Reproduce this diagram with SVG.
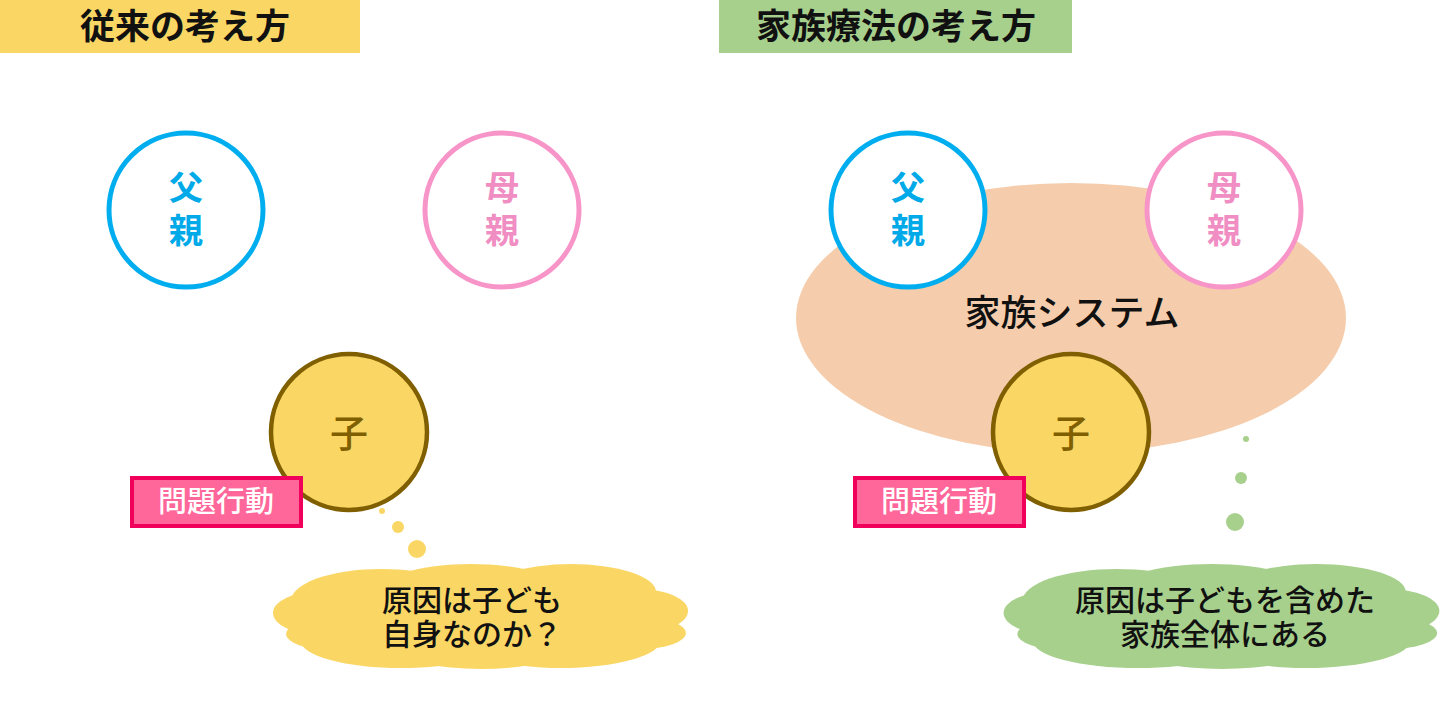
<svg xmlns="http://www.w3.org/2000/svg" width="1440" height="720" viewBox="0 0 1440 720">
<style>
.jp{font-family:"Noto Sans CJK JP","Noto Sans",sans-serif;}
.title{font-size:35px;font-weight:bold;fill:#111;}
.pc{font-size:34px;font-weight:bold;}
.ring{stroke-width:5;fill:#fff;}
.child{fill:#FAD764;stroke:#7F5F00;stroke-width:4.5;}
.tag{fill:#FF6699;stroke:#F0005A;stroke-width:4;}
.tagt{font-size:29px;fill:#fff;font-weight:500;}
.cl{font-size:30px;fill:#111;font-weight:500;}
</style>
<defs>
<g id="cloud">
<ellipse cx="0" cy="0" rx="180" ry="45"/>
<ellipse cx="-100" cy="-15" rx="90" ry="32"/>
<ellipse cx="-10" cy="-22" rx="95" ry="30"/>
<ellipse cx="90" cy="-24" rx="85" ry="28"/>
<ellipse cx="-160" cy="-3" rx="48" ry="22"/>
<ellipse cx="158" cy="-5" rx="49" ry="22"/>
<ellipse cx="-80" cy="25" rx="100" ry="27"/>
<ellipse cx="80" cy="24" rx="100" ry="28"/>
<ellipse cx="0" cy="34" rx="80" ry="19"/>
<ellipse cx="-150" cy="18" rx="45" ry="16"/>
<ellipse cx="160" cy="17" rx="45" ry="16"/>
</g>
</defs>
<g id="title-left">
<rect x="0" y="0" width="360" height="53" fill="#FAD764"/>
<text class="jp title" x="185" y="39" text-anchor="middle">従来の考え方</text>
</g>
<g id="title-right">
<rect x="719" y="0" width="353" height="53" fill="#A8D08D"/>
<text class="jp title" x="896" y="39" text-anchor="middle">家族療法の考え方</text>
</g>
<g id="family-system">
<ellipse cx="1071" cy="318" rx="275" ry="135" fill="#F5CDAC"/>
<text class="jp" x="1072" y="326" text-anchor="middle" font-size="36" font-weight="500" fill="#111">家族システム</text>
</g>
<g id="father-left">
<circle class="ring" cx="186" cy="210" r="77" stroke="#00AEEF"/>
<text class="jp pc" x="186" y="200" text-anchor="middle" fill="#00A9E8">父</text>
<text class="jp pc" x="186" y="243" text-anchor="middle" fill="#00A9E8">親</text>
</g>
<g id="mother-left">
<circle class="ring" cx="502" cy="210" r="77" stroke="#F795C9"/>
<text class="jp pc" x="502" y="200" text-anchor="middle" fill="#F08DC3">母</text>
<text class="jp pc" x="502" y="243" text-anchor="middle" fill="#F08DC3">親</text>
</g>
<g id="child-left">
<circle class="child" cx="349" cy="432" r="78"/>
<text class="jp" x="349" y="447" text-anchor="middle" font-size="38" font-weight="500" fill="#7F5F00">子</text>
</g>
<g id="tag-left">
<rect class="tag" x="132" y="478" width="169" height="48"/>
<text class="jp tagt" x="216" y="512" text-anchor="middle">問題行動</text>
</g>
<g id="father-right">
<circle class="ring" cx="908" cy="210" r="77" stroke="#00AEEF"/>
<text class="jp pc" x="908" y="200" text-anchor="middle" fill="#00A9E8">父</text>
<text class="jp pc" x="908" y="243" text-anchor="middle" fill="#00A9E8">親</text>
</g>
<g id="mother-right">
<circle class="ring" cx="1224" cy="210" r="77" stroke="#F795C9"/>
<text class="jp pc" x="1224" y="200" text-anchor="middle" fill="#F08DC3">母</text>
<text class="jp pc" x="1224" y="243" text-anchor="middle" fill="#F08DC3">親</text>
</g>
<g id="child-right">
<circle class="child" cx="1071" cy="432" r="78"/>
<text class="jp" x="1071" y="447" text-anchor="middle" font-size="38" font-weight="500" fill="#7F5F00">子</text>
</g>
<g id="tag-right">
<rect class="tag" x="855" y="478" width="169" height="48"/>
<text class="jp tagt" x="939" y="512" text-anchor="middle">問題行動</text>
</g>
<g id="thought-left">
<g fill="#FAD764">
<circle cx="382" cy="511" r="3"/>
<circle cx="398" cy="527" r="6"/>
<circle cx="417" cy="549" r="9"/>
<use href="#cloud" transform="translate(481,616)"/>
</g>
<text class="jp cl" x="472" y="611" text-anchor="middle">原因は子ども</text>
<text class="jp cl" x="472" y="645" text-anchor="middle">自身なのか？</text>
</g>
<g id="thought-right">
<g fill="#A8D08D">
<circle cx="1246" cy="439" r="3"/>
<circle cx="1241" cy="478" r="6"/>
<circle cx="1235" cy="522" r="9"/>
<use href="#cloud" transform="translate(1222,616) scale(1.05,1)"/>
</g>
<text class="jp cl" x="1225" y="611" text-anchor="middle">原因は子どもを含めた</text>
<text class="jp cl" x="1225" y="645" text-anchor="middle">家族全体にある</text>
</g>
</svg>
